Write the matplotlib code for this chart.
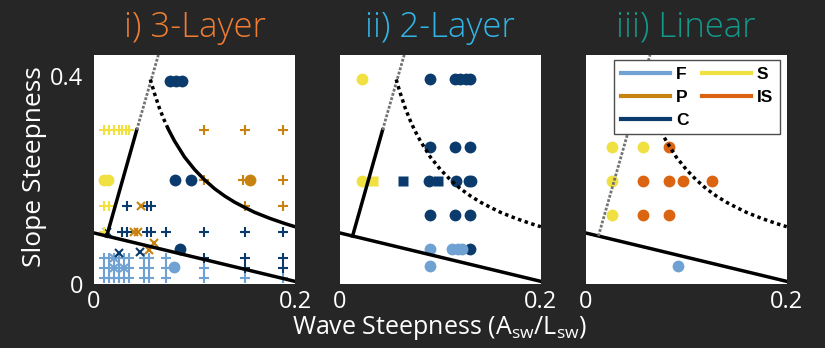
import matplotlib.pyplot as plt
from matplotlib.lines import Line2D

plt.rcParams['font.family'] = ['Open Sans', 'DejaVu Sans']
plt.rcParams['mathtext.default'] = 'regular'

BG = '#262626'

# colours for the regimes
c_F = '#6fa1d2'
c_P = '#c8820f'
c_C = '#0b3b6c'
c_S = '#f0e040'
c_IS = '#db6410'

titles = ['i) 3-Layer', 'ii) 2-Layer', 'iii) Linear']
title_colors = ['#f07d32', '#33b4e6', '#12998a']

# boundary lines
lower_x = [0.0, 0.2]
lower_y = [0.098, 0.005]
left_x = [0.0126, 0.0425, 0.064]
left_y = [0.092, 0.296, 0.44]
curve_x = [0.056, 0.06, 0.065, 0.07, 0.074, 0.08, 0.09, 0.1, 0.11, 0.12, 0.13,
           0.14, 0.15, 0.16, 0.175, 0.19, 0.2]
curve_y = [0.393, 0.367, 0.338, 0.314, 0.297, 0.275, 0.244, 0.22, 0.2, 0.183,
           0.169, 0.157, 0.147, 0.1375, 0.126, 0.116, 0.11]
curve_split = 4  # index where panel 1 curve turns solid

# ---- panel i) 3-Layer ----
p1_F_plus_x = [0.01, 0.015, 0.02, 0.025, 0.03, 0.035, 0.05, 0.055, 0.072,
               0.01, 0.015, 0.02, 0.025, 0.03, 0.035, 0.05, 0.055, 0.072, 0.109,
               0.01, 0.015, 0.02, 0.025, 0.03, 0.035, 0.05, 0.055, 0.072, 0.109, 0.15, 0.188]
p1_F_plus_y = [0.05] * 9 + [0.03] * 10 + [0.012] * 12
p1_F_x_x = [0.02, 0.02, 0.03]
p1_F_x_y = [0.05, 0.03, 0.03]
p1_F_o_x = [0.08]
p1_F_o_y = [0.033]

p1_C_o_x = [0.076, 0.082, 0.088, 0.081, 0.096, 0.086]
p1_C_o_y = [0.39, 0.39, 0.39, 0.2, 0.2, 0.068]
p1_C_plus_x = [0.033, 0.053, 0.057,
               0.028, 0.033, 0.053, 0.057, 0.072, 0.109, 0.15, 0.188,
               0.109, 0.15, 0.188, 0.15, 0.188]
p1_C_plus_y = [0.15] * 3 + [0.1] * 8 + [0.05] * 3 + [0.03] * 2
p1_C_x_x = [0.013, 0.025, 0.046]
p1_C_x_y = [0.1, 0.06, 0.062]

p1_P_plus_x = [0.109, 0.15, 0.188, 0.109, 0.148, 0.188, 0.15, 0.188]
p1_P_plus_y = [0.295] * 3 + [0.2] * 3 + [0.15] * 2
p1_P_o_x = [0.155]
p1_P_o_y = [0.2]
p1_P_x_x = [0.047, 0.04, 0.044, 0.06, 0.055]
p1_P_x_y = [0.149, 0.1, 0.1, 0.079, 0.066]

p1_S_plus_x = [0.01, 0.015, 0.02, 0.025, 0.028, 0.032, 0.035, 0.01, 0.015, 0.01]
p1_S_plus_y = [0.295] * 7 + [0.15] * 2 + [0.1]
p1_S_o_x = [0.01, 0.014]
p1_S_o_y = [0.2, 0.2]

# ---- panel ii) 2-Layer ----
p2_C_o_x = [0.09, 0.115, 0.12, 0.125, 0.129,
            0.09, 0.115, 0.129,
            0.089, 0.116, 0.128, 0.13,
            0.09, 0.115, 0.129,
            0.129]
p2_C_o_y = [0.393] * 5 + [0.263] * 3 + [0.197] * 4 + [0.133] * 3 + [0.068]
p2_C_s_x = [0.063, 0.0975]
p2_C_s_y = [0.197, 0.197]
p2_S_o_x = [0.0215, 0.0215]
p2_S_o_y = [0.393, 0.197]
p2_S_s_x = [0.033]
p2_S_s_y = [0.197]
p2_F_o_x = [0.09, 0.112, 0.118, 0.122, 0.09]
p2_F_o_y = [0.068, 0.068, 0.068, 0.068, 0.035]

# ---- panel iii) Linear ----
p3_S_o_x = [0.026, 0.057, 0.026, 0.026]
p3_S_o_y = [0.263, 0.263, 0.197, 0.133]
p3_IS_o_x = [0.0825, 0.057, 0.0825, 0.097, 0.126, 0.057, 0.0825]
p3_IS_o_y = [0.263, 0.197, 0.197, 0.197, 0.197, 0.133, 0.133]
p3_F_o_x = [0.092]
p3_F_o_y = [0.035]

legend_labels = ['F', 'P', 'C', 'S', 'IS']
legend_colors = [c_F, c_P, c_C, c_S, c_IS]


def pts(ax, x, y, color, m):
    if m == 'o':
        ax.plot(x, y, 'o', color=color, ms=8.5, mec='none', zorder=2)
    elif m == 's':
        ax.plot(x, y, 's', color=color, ms=6.5, mec='none', zorder=2)
    elif m == 'x':
        ax.plot(x, y, 'x', color=color, ms=5.5, mew=1.5, zorder=2)
    else:
        ax.plot(x, y, m, color=color, ms=7, mew=1.5, zorder=2)


fig = plt.figure(figsize=(8.25, 3.48), dpi=100, facecolor=BG)
lefts = [0.114, 0.412, 0.710]
axes = [fig.add_axes([l, 0.184, 0.2436, 0.658]) for l in lefts]

for i, ax in enumerate(axes):
    ax.set_facecolor('white')
    ax.set_xlim(0, 0.2)
    ax.set_ylim(0, 0.44)
    for s in ax.spines.values():
        s.set_visible(False)
    ax.set_xticks([0, 0.2])
    ax.set_xticklabels(['0', '0.2'])
    ax.tick_params(length=0, labelsize=17, colors='white', pad=4)
    if i == 0:
        ax.set_yticks([0, 0.4])
        ax.set_yticklabels(['0', '0.4'])
        ax.tick_params(axis='y', pad=8)
    else:
        ax.set_yticks([])
    ax.set_title(titles[i], color=title_colors[i], fontsize=25, pad=13,
                 fontweight='light')

    # boundaries
    ax.plot(lower_x, lower_y, color='black', lw=2.5, zorder=4)
    if i < 2:
        ax.plot(left_x[:2], left_y[:2], color='black', lw=2.5, zorder=4)
        ax.plot(left_x[1:], left_y[1:], color='0.45', lw=2, ls=(0, (1, 0.6)), zorder=4)
    else:
        ax.plot([left_x[0], left_x[2]], [left_y[0], left_y[2]], color='0.45', lw=2,
                ls=(0, (1, 0.6)), zorder=4)
    if i == 0:
        ax.plot(curve_x[:curve_split + 1], curve_y[:curve_split + 1], color='black',
                lw=2.5, ls=(0, (1, 1)), zorder=4)
        ax.plot(curve_x[curve_split:], curve_y[curve_split:], color='black', lw=2.5, zorder=4)
    else:
        ax.plot(curve_x, curve_y, color='black', lw=2.5, ls=(0, (1, 1)), zorder=4)

ax1, ax2, ax3 = axes
pts(ax1, p1_F_plus_x, p1_F_plus_y, c_F, '+')
pts(ax1, p1_F_x_x, p1_F_x_y, c_F, 'x')
pts(ax1, p1_F_o_x, p1_F_o_y, c_F, 'o')
pts(ax1, p1_C_plus_x, p1_C_plus_y, c_C, '+')
pts(ax1, p1_C_x_x, p1_C_x_y, c_C, 'x')
pts(ax1, p1_C_o_x, p1_C_o_y, c_C, 'o')
pts(ax1, p1_P_plus_x, p1_P_plus_y, c_P, '+')
pts(ax1, p1_P_x_x, p1_P_x_y, c_P, 'x')
pts(ax1, p1_P_o_x, p1_P_o_y, c_P, 'o')
pts(ax1, p1_S_plus_x, p1_S_plus_y, c_S, '+')
pts(ax1, p1_S_o_x, p1_S_o_y, c_S, 'o')

pts(ax2, p2_C_o_x, p2_C_o_y, c_C, 'o')
pts(ax2, p2_C_s_x, p2_C_s_y, c_C, 's')
pts(ax2, p2_S_o_x, p2_S_o_y, c_S, 'o')
pts(ax2, p2_S_s_x, p2_S_s_y, c_S, 's')
pts(ax2, p2_F_o_x, p2_F_o_y, c_F, 'o')

pts(ax3, p3_S_o_x, p3_S_o_y, c_S, 'o')
pts(ax3, p3_IS_o_x, p3_IS_o_y, c_IS, 'o')
pts(ax3, p3_F_o_x, p3_F_o_y, c_F, 'o')

handles = [Line2D([], [], color=c, lw=3) for c in legend_colors]
leg = ax3.legend(handles, legend_labels, ncol=2, loc='upper right',
                 bbox_to_anchor=(0.965, 0.978), borderaxespad=0, fancybox=False,
                 framealpha=1, edgecolor='0.3', handlelength=2.8, handletextpad=0.35,
                 columnspacing=0.8, labelspacing=0.45, borderpad=0.38,
                 prop={'family': 'Liberation Sans', 'weight': 'bold', 'size': 12.5})
leg.get_frame().set_linewidth(1.0)
leg.set_zorder(6)

fig.text(35 / 825, 1 - 167 / 348, 'Slope Steepness', rotation=90, color='white',
         fontsize=19, ha='center', va='center')
fig.text(440 / 825, 1 - 328 / 348, 'Wave Steepness (A$_{sw}$/L$_{sw}$)', color='white',
         fontsize=18, ha='center', va='center')

fig.savefig('out.png', dpi=100, facecolor=BG)
